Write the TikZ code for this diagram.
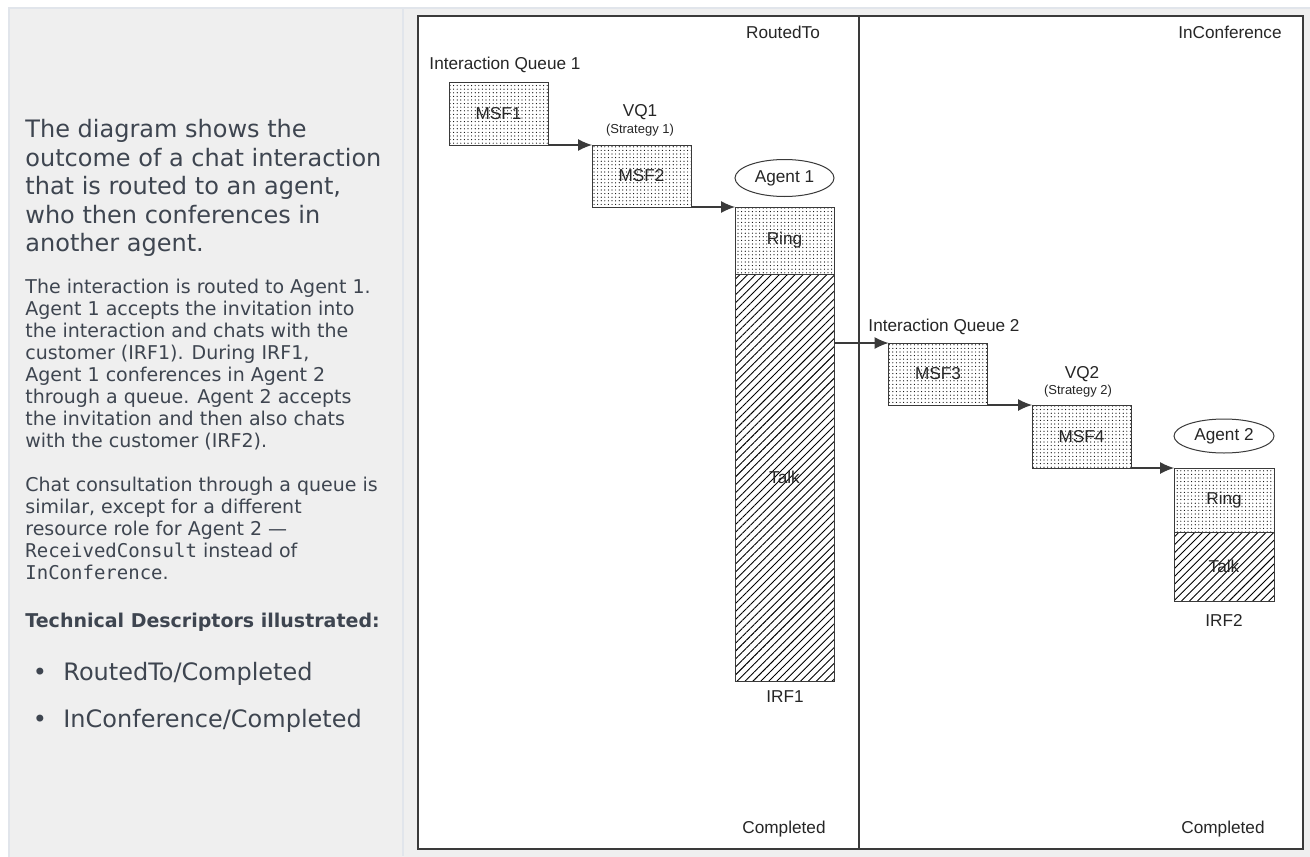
\documentclass[tikz,border=0pt]{standalone}
\usepackage{fontspec}
\setmainfont{DejaVu Sans}
\setmonofont{DejaVu Sans Mono}
\newfontfamily\diagfont{Liberation Sans}
\usepackage{xcolor}
\usetikzlibrary{arrows.meta,patterns.meta,shapes.geometric}
\definecolor{panelgray}{RGB}{239,239,239}
\definecolor{panelline}{RGB}{225,229,235}
\definecolor{textgray}{RGB}{62,69,80}
\definecolor{ink}{RGB}{58,58,58}

\begin{document}
\begin{tikzpicture}[x=0.5pt, y=-0.5pt,
  prose/.style={text=textgray, align=left, inner sep=0pt},
  lbl/.style={font=\diagfont\fontsize{8.6}{10}\selectfont, text=black!85,
    inner sep=0pt},
  small/.style={font=\diagfont\fontsize{6.5}{8}\selectfont, text=black!85,
    inner sep=0pt},
  stage/.style={draw=ink, line width=0.5pt, minimum width=49.5pt,
    minimum height=31pt, inner sep=0pt, outer sep=0pt,
    pattern={Dots[distance=1.8pt, radius=0.3pt]},
    font=\diagfont\fontsize{8.6}{10}\selectfont, text=black!85},
  talkbox/.style={draw=ink, line width=0.5pt, minimum width=49.5pt,
    inner sep=0pt, outer sep=0pt,
    pattern={Lines[angle=45, distance=2.8pt, line width=0.45pt]},
    font=\diagfont\fontsize{8.6}{10}\selectfont, text=black!85},
  agent/.style={ellipse, draw=ink, line width=0.5pt, minimum width=49.5pt,
    minimum height=18.5pt, inner sep=0pt,
    font=\diagfont\fontsize{8.6}{10}\selectfont, text=black!85},
  flow/.style={-{Latex[length=7pt, width=6pt]}, ink, line width=0.55pt},
]
  \useasboundingbox (0,0) rectangle (1310,856);

  % Page and panels
  \fill[white] (0,0) rectangle (1310,856);
  \filldraw[fill=panelgray, draw=panelline, line width=1pt]
    (9,8) rectangle (1314,860);
  \draw[panelline, line width=1pt] (403,8) -- (403,856);
  \filldraw[fill=white, draw=ink, line width=0.8pt]
    (418,16) rectangle (1303,849);
  \draw[ink, line width=0.6pt] (859,16) -- (859,849);

  % Description
  \node[prose, font=\fontsize{12}{14.25}\selectfont, anchor=north west]
    (intro) at (25,119)
    {The diagram shows the\\outcome of a chat interaction\\that is routed
     to an agent,\\who then conferences in\\another agent.};
  \node[prose, font=\fontsize{9.5}{11}\selectfont, anchor=north west]
    (detail) at (25,279)
    {The interaction is routed to Agent 1.\\Agent 1 accepts the invitation
     into\\the interaction and chats with the\\customer (IRF1). During
     IRF1,\\Agent 1 conferences in Agent 2\\through a queue. Agent 2
     accepts\\the invitation and then also chats\\with the customer
     (IRF2).\\[11pt]Chat consultation through a queue is\\similar, except
     for a different\\resource role for Agent 2 —\\\texttt{ReceivedConsult}
     instead of\\\texttt{InConference}.};
  \node[prose, font=\bfseries\fontsize{9.5}{11}\selectfont, anchor=base west]
    (tdhead) at (25,627) {Technical Descriptors illustrated:};
  \node[prose, font=\fontsize{12}{14}\selectfont, anchor=base] (dot1)
    at (40,680) {•};
  \node[prose, font=\fontsize{12}{14}\selectfont, anchor=base west] (td1)
    at (63,680) {RoutedTo/Completed};
  \node[prose, font=\fontsize{12}{14}\selectfont, anchor=base] (dot2)
    at (40,727) {•};
  \node[prose, font=\fontsize{12}{14}\selectfont, anchor=base west] (td2)
    at (63,727) {InConference/Completed};

  % Column headers and footers
  \node[lbl] (routed) at (783,32) {RoutedTo};
  \node[lbl] (inconf) at (1230,32) {InConference};
  \node[lbl] (done1) at (784,829) {Completed};
  \node[lbl] (done2) at (1223,829) {Completed};

  % First agent
  \node[lbl] (iq1) at (505,65) {Interaction Queue 1};
  \node[stage] (msf1) at (498.5,114) {MSF1};
  \node[lbl] (vq1) at (640,112) {VQ1};
  \node[small] (strat1) at (640,130) {(Strategy 1)};
  \node[stage] (msf2) at (641.5,176) {MSF2};
  \node[agent] (agent1) at (784.5,178) {Agent 1};
  \node[stage, minimum height=33.5pt] (ring1) at (784.5,240.5) {Ring};
  \node[talkbox, minimum height=203.5pt, anchor=north] (talk1)
    at (ring1.south) {Talk};
  \node[lbl] (irf1) at (785,697) {IRF1};

  % Second agent
  \node[lbl] (iq2) at (944,327) {Interaction Queue 2};
  \node[stage] (msf3) at (938,374) {MSF3};
  \node[lbl] (vq2) at (1082,374) {VQ2};
  \node[small] (strat2) at (1078,391) {(Strategy 2)};
  \node[stage, minimum height=31.5pt] (msf4) at (1081.5,436.5) {MSF4};
  \node[agent, minimum width=50pt, minimum height=17pt] (agent2)
    at (1224,436) {Agent 2};
  \node[stage, minimum width=50pt, minimum height=32pt] (ring2)
    at (1224,500) {Ring};
  \node[talkbox, minimum width=50pt, minimum height=34.5pt, anchor=north]
    (talk2) at (ring2.south) {Talk};
  \node[lbl] (irf2) at (1224,620) {IRF2};

  % Flow
  \draw[flow] (msf1.south east) -- (msf2.north west);
  \draw[flow] (msf2.south east) -- (ring1.north west);
  \draw[flow] (talk1.east |- msf3.north west) -- (msf3.north west);
  \draw[flow] (msf3.south east) -- (msf4.north west);
  \draw[flow] (msf4.south east) -- (ring2.north west);
\end{tikzpicture}
\end{document}
